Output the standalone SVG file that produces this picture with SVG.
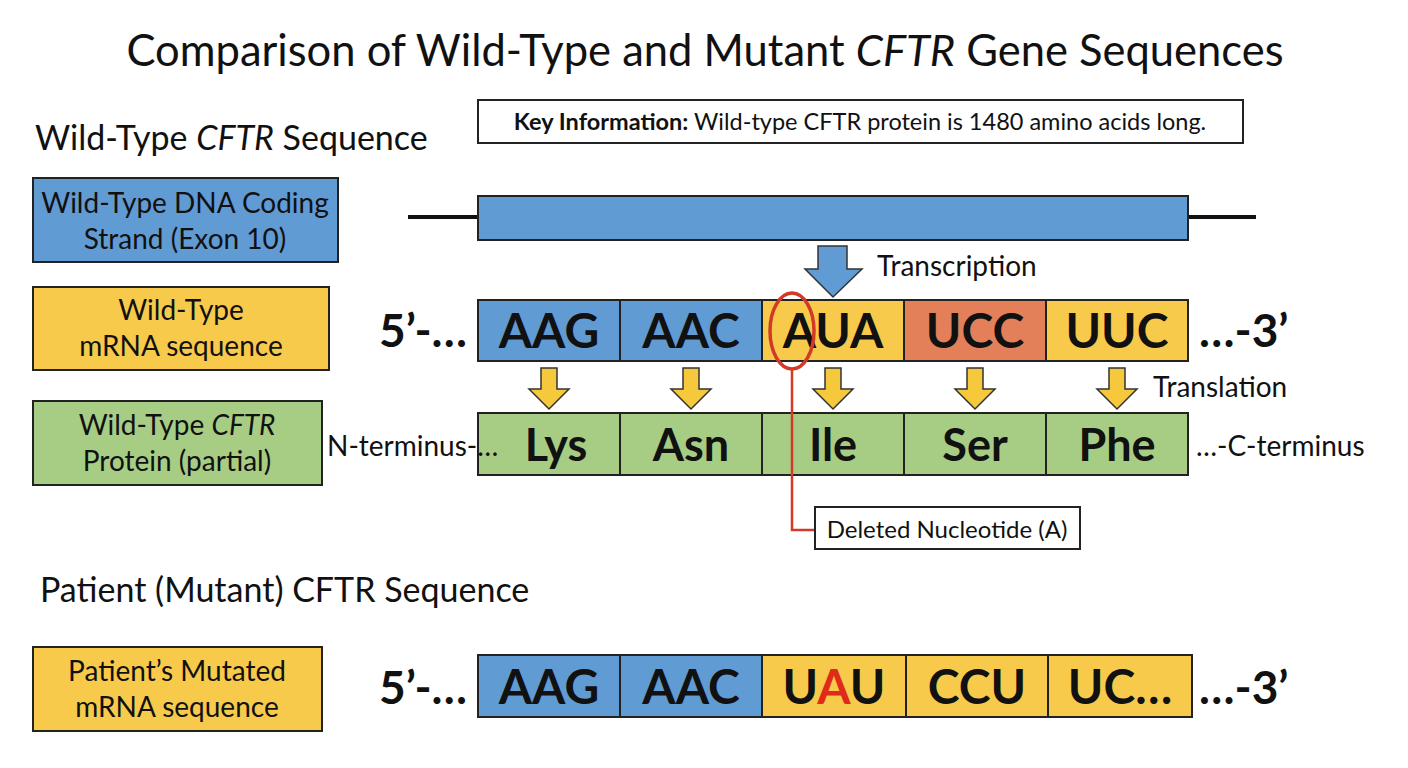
<svg xmlns="http://www.w3.org/2000/svg" width="1408" height="768" viewBox="0 0 1408 768">
<style>
text{font-family:Lato,"Open Sans","Liberation Sans",sans-serif;fill:#111}
.lbl{font-size:28px;text-anchor:middle}
.hd{font-size:34px}
.cod{font-size:48px;font-weight:bold;text-anchor:middle}
.aa{font-size:45px;font-weight:bold;text-anchor:middle}
.end{font-size:46px;font-weight:bold}
.sm{font-size:28px}
.box{stroke:#222;stroke-width:2}
.blue{fill:#619bd4}
.yel{fill:#f8ca4b}
.org{fill:#e3805a}
.grn{fill:#a7cd84}
.ya{fill:#f6c93c;stroke:#333;stroke-width:1.5}
</style>
<defs>
<path id="yarrow" d="M-8,0 H8 V21 H20 L0,41 L-20,21 H-8 Z" class="ya"/>
</defs>
<rect width="1408" height="768" fill="#fff"/>
<text x="705" y="66" font-size="43.5" text-anchor="middle">Comparison of Wild-Type and Mutant <tspan font-style="italic">CFTR</tspan> Gene Sequences</text>
<text x="35" y="150" class="hd">Wild-Type <tspan font-style="italic">CFTR</tspan> Sequence</text>
<g id="key-info">
<rect x="478" y="100" width="765" height="43" fill="#fff" class="box"/>
<text x="860" y="130" font-size="23.5" text-anchor="middle"><tspan font-weight="bold">Key Information:</tspan> Wild-type CFTR protein is 1480 amino acids long.</text>
</g>
<g id="label-dna">
<rect x="33" y="178" width="305" height="84" class="box blue"/>
<text x="185" y="213" class="lbl">Wild-Type DNA Coding</text>
<text x="185" y="249" class="lbl">Strand (Exon 10)</text>
</g>
<g id="label-mrna">
<rect x="33" y="287" width="296" height="83" class="box yel"/>
<text x="181" y="320" class="lbl">Wild-Type</text>
<text x="181" y="356" class="lbl">mRNA sequence</text>
</g>
<g id="label-protein">
<rect x="33" y="401" width="289" height="84" class="box grn"/>
<text x="177" y="435" class="lbl">Wild-Type <tspan font-style="italic">CFTR</tspan></text>
<text x="177" y="471" class="lbl">Protein (partial)</text>
</g>
<g id="dna-strand">
<line x1="408" y1="217" x2="1256" y2="217" stroke="#111" stroke-width="4"/>
<rect x="478" y="196" width="710" height="44" class="box blue"/>
</g>
<g id="wt-mrna">
<rect x="478" y="300" width="142" height="61" class="box blue"/>
<rect x="620" y="300" width="142" height="61" class="box blue"/>
<rect x="762" y="300" width="142" height="61" class="box yel"/>
<rect x="904" y="300" width="142" height="61" class="box org"/>
<rect x="1046" y="300" width="142" height="61" class="box yel"/>
<text x="549" y="348" class="cod">AAG</text>
<text x="691" y="348" class="cod">AAC</text>
<text x="833" y="348" class="cod">AUA</text>
<text x="975" y="348" class="cod">UCC</text>
<text x="1117" y="348" class="cod">UUC</text>
<text x="379" y="347" class="end">5’-…</text>
<text x="1199" y="347" class="end">…-3’</text>
</g>
<g id="wt-protein">
<rect x="478" y="413" width="142" height="62" class="box grn"/>
<rect x="620" y="413" width="142" height="62" class="box grn"/>
<rect x="762" y="413" width="142" height="62" class="box grn"/>
<rect x="904" y="413" width="142" height="62" class="box grn"/>
<rect x="1046" y="413" width="142" height="62" class="box grn"/>
<text x="556" y="461" class="aa">Lys</text>
<text x="691" y="461" class="aa">Asn</text>
<text x="833" y="461" class="aa">Ile</text>
<text x="975" y="461" class="aa">Ser</text>
<text x="1117" y="461" class="aa">Phe</text>
<text x="327" y="456" class="sm">N-terminus-…</text>
<text x="1196" y="456" class="sm">…-C-terminus</text>
</g>
<g id="connectors">
<path d="M818,246 H847 V269 H862 L833,297 L805,269 H818 Z" fill="#619bd4" stroke="#333" stroke-width="1.5"/>
<use href="#yarrow" x="549" y="368"/>
<use href="#yarrow" x="691" y="368"/>
<use href="#yarrow" x="833" y="368"/>
<use href="#yarrow" x="975" y="368"/>
<use href="#yarrow" x="1117" y="368"/>
<text x="877" y="276" class="sm">Transcription</text>
<text x="1153" y="397" class="sm">Translation</text>
<ellipse cx="792" cy="331" rx="22" ry="38" fill="none" stroke="#d23a28" stroke-width="3.5"/>
<polyline points="792,369 792,530 815,530" fill="none" stroke="#d23a28" stroke-width="2.5"/>
</g>
<g id="deleted-label">
<rect x="815" y="507" width="265" height="42" fill="#fff" class="box"/>
<text x="947" y="538" font-size="24" text-anchor="middle">Deleted Nucleotide (A)</text>
</g>
<text x="40" y="602" class="hd">Patient (Mutant) CFTR Sequence</text>
<g id="label-patient">
<rect x="33" y="647" width="289" height="84" class="box yel"/>
<text x="177" y="681" class="lbl" font-size="29">Patient’s Mutated</text>
<text x="177" y="717" class="lbl" font-size="29">mRNA sequence</text>
</g>
<g id="mut-mrna">
<rect x="478" y="655" width="142" height="62" class="box blue"/>
<rect x="620" y="655" width="142" height="62" class="box blue"/>
<rect x="762" y="655" width="144" height="62" class="box yel"/>
<rect x="906" y="655" width="142" height="62" class="box yel"/>
<rect x="1048" y="655" width="144" height="62" class="box yel"/>
<text x="549" y="704" class="cod">AAG</text>
<text x="691" y="704" class="cod">AAC</text>
<text x="834" y="704" class="cod">U<tspan fill="#e02a1a">A</tspan>U</text>
<text x="977" y="704" class="cod">CCU</text>
<text x="1120" y="704" class="cod">UC…</text>
<text x="379" y="704" class="end">5’-…</text>
<text x="1199" y="704" class="end">…-3’</text>
</g>
</svg>
